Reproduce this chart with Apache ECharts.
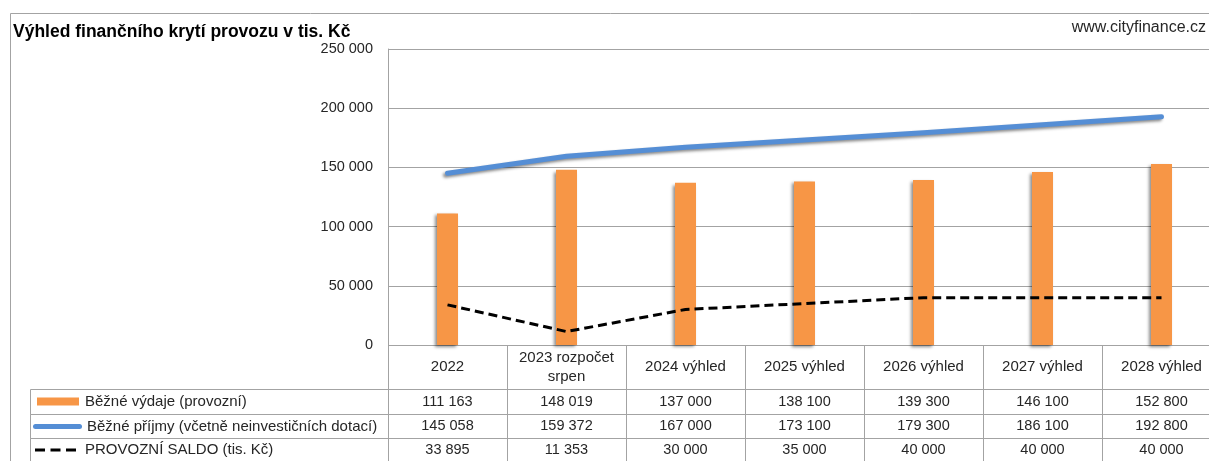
<!DOCTYPE html>
<html>
<head>
<meta charset="utf-8">
<script src="https://cdn.jsdelivr.net/npm/echarts@6/dist/echarts.min.js"></script>
<style>
  html, body { margin: 0; padding: 0; background: #fff; }
  #chart { width: 1209px; height: 461px; }
</style>
</head>
<body>
<div id="chart"></div>
<script>
// Categories (table header) and series values
const categories = ['2022', '2023 rozpočet\nsrpen', '2024 výhled', '2025 výhled', '2026 výhled', '2027 výhled', '2028 výhled'];
const vydaje = [111163, 148019, 137000, 138100, 139300, 146100, 152800];
const prijmy = [145058, 159372, 167000, 173100, 179300, 186100, 192800];
const saldo = [33895, 11353, 30000, 35000, 40000, 40000, 40000];
const seriesNames = ['Běžné výdaje (provozní)', 'Běžné příjmy (včetně neinvestičních dotací)', 'PROVOZNÍ SALDO (tis. Kč)'];
const yMin = 0, yMax = 250000, yStep = 50000;

const FONT = 'Liberation Sans';
const LINE = '#a3a3a3';
const TEXT = '#262626';
const ORANGE = '#f79646';
const BLUE = '#558ed5';
const NUM_SIZE = 14.5;
const TXT_SIZE = 15;

const fmt = n => String(n).replace(/\B(?=(\d{3})+(?!\d))/g, ' ');

// data table: header row + one row per series
const tableRows = [categories, vydaje.map(fmt), prijmy.map(fmt), saldo.map(fmt)];
const rowEdges = [0, 44, 69, 93, 117]; // row boundaries in px below the zero line
const tableData = [];
categories.forEach((c, i) => { for (let r = 0; r < tableRows.length; r++) tableData.push([i, r]); });

const shadow = { shadowColor: 'rgba(0,0,0,0.45)', shadowBlur: 3, shadowOffsetX: -2, shadowOffsetY: 2 };
const px = v => Math.round(v) + 0.5;

function renderCell(params, api) {
  const i = api.value(0), r = api.value(1);
  const w = api.size([1, 0])[0];
  const cx = api.coord([i, 0])[0];
  const y0 = api.coord([i, rowEdges[r]])[1];
  const y1 = api.coord([i, rowEdges[r + 1]])[1];
  const x0 = px(cx - w / 2), x1 = px(cx + w / 2);
  return {
    type: 'group',
    children: [
      { type: 'rect', shape: { x: x0, y: px(y0), width: x1 - x0, height: px(y1) - px(y0) },
        style: { fill: 'none', stroke: LINE, lineWidth: 1 } },
      { type: 'text', style: { text: tableRows[r][i], x: cx, y: (y0 + y1) / 2,
        align: 'center', verticalAlign: 'middle', fontFamily: FONT,
        fontSize: r === 0 ? TXT_SIZE : NUM_SIZE, lineHeight: 19, fill: TEXT } }
    ]
  };
}

function legendBox(name, icon, w, h, color, left, centerY, textPad) {
  return {
    data: [{ name: name, icon: icon, itemStyle: { color: color, borderWidth: 0 } }],
    left: left, top: centerY - 9, padding: 0,
    itemWidth: w, itemHeight: h, selectedMode: false,
    textStyle: { fontFamily: FONT, fontSize: TXT_SIZE, color: TEXT, lineHeight: 18, padding: [0, 0, 0, textPad] }
  };
}

const chart = echarts.init(document.getElementById('chart'), null, { renderer: 'canvas' });
chart.setOption({
  animation: false,
  backgroundColor: '#fff',
  grid: [
    { left: 388, top: 49, width: 833, height: 296, outerBoundsMode: 'none' },
    { left: 388, top: 345, width: 833, height: 116, outerBoundsMode: 'none' }
  ],
  xAxis: [
    { type: 'category', data: categories, gridIndex: 0,
      axisLine: { show: false }, axisTick: { show: false }, axisLabel: { show: false } },
    { type: 'category', data: categories, gridIndex: 1, show: false }
  ],
  yAxis: [
    { type: 'value', gridIndex: 0, min: yMin, max: yMax, interval: yStep,
      axisLine: { show: true, lineStyle: { color: LINE } }, axisTick: { show: false },
      axisLabel: { formatter: fmt, margin: 15, fontFamily: FONT, fontSize: NUM_SIZE, color: TEXT },
      splitLine: { lineStyle: { color: LINE } } },
    { type: 'value', gridIndex: 1, min: 0, max: 116, inverse: true, show: false }
  ],
  legend: [
    legendBox(seriesNames[0], 'rect', 42, 8, ORANGE, 37, 401.5, 1),
    legendBox(seriesNames[1], 'path://M2.5,0H46.5A2.5,2.5,0,0,1,46.5,5H2.5A2.5,2.5,0,0,1,2.5,0Z', 49, 5, BLUE, 33, 426.5, 0),
    legendBox(seriesNames[2], 'path://M0,0h10v3h-10zM15.5,0h10v3h-10zM31,0h10v3h-10z', 41, 3, '#000', 35, 450, 4)
  ],
  graphic: [
    { type: 'rect', silent: true, shape: { x: 10.5, y: 13.5, width: 1300, height: 600 },
      style: { fill: 'none', stroke: LINE, lineWidth: 1 } },
    { type: 'rect', silent: true, shape: { x: 30.5, y: 389.5, width: 358, height: 25 },
      style: { fill: 'none', stroke: LINE, lineWidth: 1 } },
    { type: 'rect', silent: true, shape: { x: 30.5, y: 414.5, width: 358, height: 24 },
      style: { fill: 'none', stroke: LINE, lineWidth: 1 } },
    { type: 'rect', silent: true, shape: { x: 30.5, y: 438.5, width: 358, height: 40 },
      style: { fill: 'none', stroke: LINE, lineWidth: 1 } },
    { type: 'text', left: 13, top: 23,
      style: { text: 'Výhled finančního krytí provozu v tis. Kč', fontFamily: FONT, fontSize: 17.5, fontWeight: 'bold', fill: '#000' } },
    { type: 'text', right: 3, top: 20,
      style: { text: 'www.cityfinance.cz', fontFamily: FONT, fontSize: 16, fill: TEXT } }
  ],
  series: [
    { name: seriesNames[0], type: 'bar', data: vydaje, barWidth: 21,
      itemStyle: Object.assign({ color: ORANGE }, shadow) },
    { name: seriesNames[1], type: 'line', data: prijmy, smooth: false, symbol: 'none',
      itemStyle: { color: BLUE },
      lineStyle: Object.assign({ color: BLUE, width: 5, cap: 'round', join: 'round' }, shadow), z: 3 },
    { name: seriesNames[2], type: 'line', data: saldo, smooth: false, symbol: 'none',
      itemStyle: { color: '#000' },
      lineStyle: { color: '#000', width: 3, type: [9, 5], join: 'round' }, z: 4 },
    { type: 'custom', xAxisIndex: 1, yAxisIndex: 1, data: tableData, renderItem: renderCell, silent: true }
  ]
});
</script>
</body>
</html>
